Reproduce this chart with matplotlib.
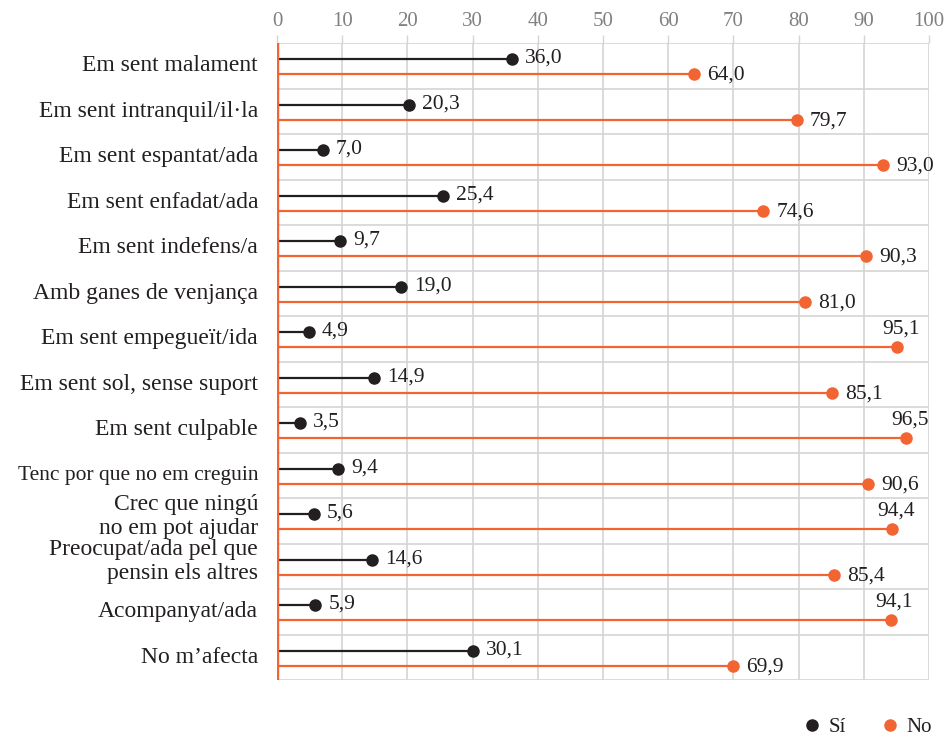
import matplotlib
matplotlib.use("Agg")
import matplotlib.pyplot as plt
from matplotlib.lines import Line2D

categories = [
    "Em sent malament",
    "Em sent intranquil/il·la",
    "Em sent espantat/ada",
    "Em sent enfadat/ada",
    "Em sent indefens/a",
    "Amb ganes de venjança",
    "Em sent empegueït/ida",
    "Em sent sol, sense suport",
    "Em sent culpable",
    "Tenc por que no em creguin",
    "Crec que ningú\nno em pot ajudar",
    "Preocupat/ada pel que\npensin els altres",
    "Acompanyat/ada",
    "No m’afecta",
]
si_values = [36.0, 20.3, 7.0, 25.4, 9.7, 19.0, 4.9, 14.9, 3.5, 9.4, 5.6, 14.6, 5.9, 30.1]
no_values = [64.0, 79.7, 93.0, 74.6, 90.3, 81.0, 95.1, 85.1, 96.5, 90.6, 94.4, 85.4, 94.1, 69.9]
x_ticks = [0, 10, 20, 30, 40, 50, 60, 70, 80, 90, 100]
series_names = ["Sí", "No"]

BLACK = "#231f20"
ORANGE = "#f26532"
GRID = "#d4d4d4"
FONT = ["Liberation Serif", "DejaVu Serif"]

plt.rcParams["font.family"] = FONT

fig = plt.figure(figsize=(9.49, 7.38), dpi=100)
ax = fig.add_axes([277 / 949, 1 - 680 / 738, 652 / 949, 637 / 738])

n = len(categories)
ax.set_xlim(0, 100)
ax.set_ylim(n, 0)

# row separators and vertical grid
for i in range(n + 1):
    ax.axhline(i, color=GRID, lw=1.2, zorder=0)
for t in x_ticks:
    ax.axvline(t, color=GRID, lw=1.2, zorder=0)

def fmt(v):
    return f"{v:.1f}".replace(".", ",")

for i, (s, o) in enumerate(zip(si_values, no_values)):
    ys = i + 0.36
    yo = i + 0.69
    ax.plot([0, s], [ys, ys], color=BLACK, lw=1.6, zorder=2, solid_capstyle="butt")
    ax.plot([s], [ys], "o", color=BLACK, ms=8, zorder=3)
    ax.text(s + 2.0, ys - 0.02, fmt(s), va="center", ha="left", fontsize=15.5, color=BLACK)
    ax.plot([0, o], [yo, yo], color=ORANGE, lw=1.6, zorder=2, solid_capstyle="butt")
    ax.plot([o], [yo], "o", color=ORANGE, ms=8, zorder=3)
    if o >= 94:
        ax.text(o + 0.6, yo - 0.2, fmt(o), va="bottom", ha="center", fontsize=15.5, color=BLACK)
    else:
        ax.text(o + 2.0, yo + 0.02, fmt(o), va="center", ha="left", fontsize=15.5, color=BLACK)
    label = categories[i]
    size = 15.5 if label.startswith("Tenc") else 17
    yl = i + 0.4 if "\n" in label else i + 0.5
    ax.text(-2.9, yl, label, va="center", ha="right", fontsize=size,
            color=BLACK, linespacing=1.2)

# orange baseline at zero
ax.axvline(0, color=ORANGE, lw=3.2, zorder=4)

for sp in ax.spines.values():
    sp.set_visible(False)

ax.xaxis.tick_top()
ax.set_xticks(x_ticks)
ax.set_xticklabels([str(t) for t in x_ticks])
ax.tick_params(axis="x", colors="#808080", labelsize=15, length=6, width=1, pad=2.5)
ax.tick_params(axis="x", color=GRID)
ax.set_yticks([])

handles = [
    Line2D([], [], marker="o", color=BLACK, ls="none", ms=8),
    Line2D([], [], marker="o", color=ORANGE, ls="none", ms=8),
]
fig.legend(handles, series_names, loc="center right", bbox_to_anchor=(0.995, 1 - 727 / 738),
           ncol=2, frameon=False, fontsize=15, handletextpad=0.3, columnspacing=1.6,
           handlelength=1.0, borderpad=0.1, labelcolor=BLACK)

fig.savefig("out.png", dpi=100)
